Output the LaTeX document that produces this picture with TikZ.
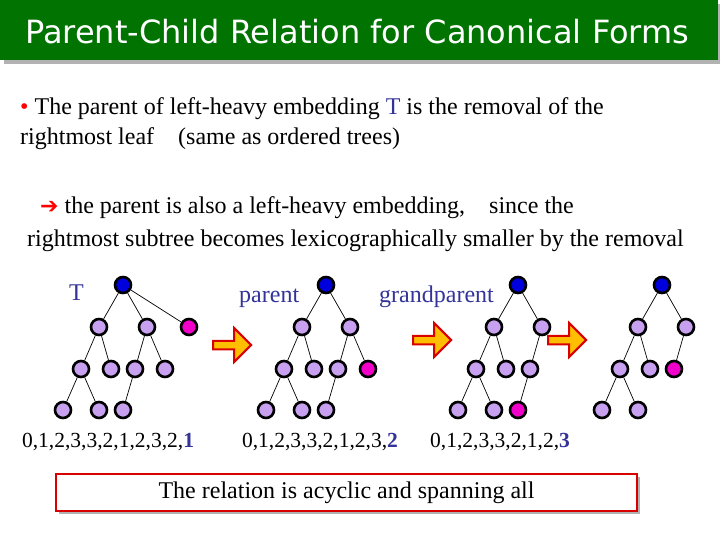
\documentclass[tikz,border=0pt]{standalone}
\usepackage{fontspec}
\setmainfont{Liberation Serif}
\newfontfamily\titlefont{DejaVu Sans}
\usetikzlibrary{shapes.arrows}
\definecolor{tgreen}{RGB}{0,115,0}
\definecolor{lav}{RGB}{200,160,240}
\definecolor{rootblue}{RGB}{0,0,220}
\definecolor{mag}{RGB}{240,0,200}
\definecolor{lblue}{RGB}{51,51,153}
\definecolor{arrfill}{RGB}{255,190,0}
\tikzset{
 vx/.style={circle,draw=black,line width=2.6pt,fill=lav,inner sep=0pt,minimum size=16pt},
 vroot/.style={vx,fill=rootblue},
 vmag/.style={vx,fill=mag},
 edge/.style={draw=black,line width=0.7pt},
 blk/.style={single arrow,draw=red!85!black,line width=2pt,fill=arrfill,minimum height=38pt,minimum width=34pt,single arrow head extend=3pt,inner sep=0pt},
 txt/.style={font=\fontsize{24}{28}\selectfont,anchor=base west,inner sep=0pt},
 seq/.style={font=\fontsize{21.5}{26}\selectfont,anchor=base,inner sep=0pt}
}
\newcommand{\mytree}[1]{%
 \node[vroot] (#1r) at (123,285) {};
 \node[vx] (#1a1) at (99,327) {};
 \node[vx] (#1a2) at (147,327) {};
 \node[vx] (#1b1) at (81,369) {};
 \node[vx] (#1b2) at (111,369) {};
 \node[vx] (#1c1) at (63,410) {};
 \node[vx] (#1c2) at (99,410) {};
}
\newcommand{\mytreeedges}[1]{%
 \draw[edge] (#1r)--(#1a1) (#1r)--(#1a2) (#1a1)--(#1b1) (#1a1)--(#1b2) (#1b1)--(#1c1) (#1b1)--(#1c2);
}
\begin{document}
\begin{tikzpicture}[x=1pt,y=-1pt]
\useasboundingbox (0,0) rectangle (720,540);
\fill[white] (0,0) rectangle (720,540);
% title
\fill[gray!60] (4,4) rectangle (720,64);
\fill[tgreen] (0,0) rectangle (718,60);
\node[text=white,font=\titlefont\fontsize{32}{36}\selectfont,anchor=base west,inner sep=0pt] (title) at (25,44) {Parent-Child Relation for Canonical Forms};
% text
\node[txt] (l1) at (20,115) {\textcolor{red}{\textbullet} The parent of left-heavy embedding \textcolor{lblue}{T} is the removal of the};
\node[txt] (l2) at (20,145) {rightmost leaf\quad (same as ordered trees)};
\node[txt] (l3) at (40,214) {\textcolor{red}{\titlefont\fontsize{22}{24}\selectfont ➔} the parent is also a left-heavy embedding,\quad since the};
\node[txt] (l4) at (27,247) {rightmost subtree becomes lexicographically smaller by the removal};
% labels
\node[txt,text=lblue] (lT) at (69,300) {T};
\node[txt,text=lblue] (lp) at (239,302) {parent};
\node[txt,text=lblue] (lg) at (379,302) {grandparent};
\node[seq] (s1) at (108,447) {0,1,2,3,3,2,1,2,3,2,\textcolor{lblue}{\textbf{1}}};
\node[seq] (s2) at (320,447) {0,1,2,3,3,2,1,2,3,\textcolor{lblue}{\textbf{2}}};
\node[seq] (s3) at (500,447) {0,1,2,3,3,2,1,2,\textcolor{lblue}{\textbf{3}}};
% tree 1
\mytree{p}
\node[vmag] (pa3) at (189,327) {};
\node[vx] (pb3) at (135,369) {};
\node[vx] (pb4) at (165,369) {};
\node[vx] (pc3) at (123,410) {};
\mytreeedges{p}
\draw[edge] (pr)--(pa3) (pa2)--(pb3) (pa2)--(pb4) (pb3)--(pc3);
% tree 2
\begin{scope}[shift={(203,0)}]
\mytree{q}
\node[vx] (qb3) at (135,369) {};
\node[vmag] (qb4) at (165,369) {};
\node[vx] (qc3) at (123,410) {};
\mytreeedges{q}
\draw[edge] (qa2)--(qb3) (qa2)--(qb4) (qb3)--(qc3);
\end{scope}
% tree 3
\begin{scope}[shift={(395,0)}]
\mytree{u}
\node[vx] (ub3) at (135,369) {};
\node[vmag] (uc3) at (123,410) {};
\mytreeedges{u}
\draw[edge] (ua2)--(ub3) (ub3)--(uc3);
\end{scope}
% tree 4
\begin{scope}[shift={(539,0)}]
\mytree{w}
\node[vmag] (wb3) at (135,369) {};
\mytreeedges{w}
\draw[edge] (wa2)--(wb3);
\end{scope}
% arrows
\node[blk] (ar1) at (230,345) {};
\node[blk] (ar2) at (430,340) {};
\node[blk] (ar3) at (565,340) {};
% bottom box
\fill[gray!60] (59,477) rectangle (640,514);
\node[draw=red!85!black,line width=2pt,fill=white,minimum width=581pt,minimum height=37pt,inner sep=0pt,font=\fontsize{24}{28}\selectfont] (box) at (346.5,492.5) {The relation is acyclic and spanning all};
\end{tikzpicture}
\end{document}
